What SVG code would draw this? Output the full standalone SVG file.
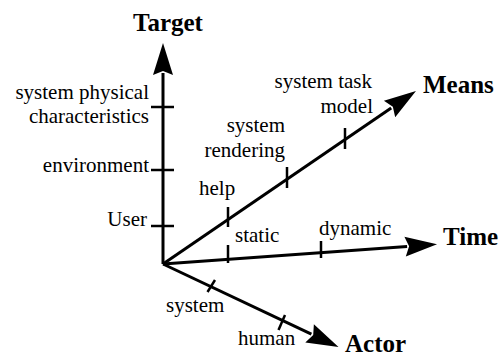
<svg xmlns="http://www.w3.org/2000/svg" width="501" height="356" viewBox="0 0 501 356">
<style>
.ax{stroke:#000;stroke-width:3;fill:none;marker-end:url(#ah)}
.tk{stroke:#000;stroke-width:2.5;fill:none}
text{font-family:"Liberation Serif","Times New Roman","DejaVu Serif",serif;fill:#000}
.lb{font-size:21px;font-weight:normal}
.ttl{font-size:25px;font-weight:bold}
.e{text-anchor:end}
</style>
<defs>
<marker id="ah" markerUnits="userSpaceOnUse" viewBox="-3 -11 34 22" markerWidth="34" markerHeight="22" refX="0" refY="0" orient="auto">
<path d="M30,0 L-2,-10 L2,0 L-2,10 Z" fill="#000"/>
</marker>
</defs>
<rect width="501" height="356" fill="#fff"/>
<g id="connectors">
<path class="ax" d="M163,264 L163,73"/>
<path class="ax" d="M163,264 L391.2,107.9"/>
<path class="ax" d="M163,264 L407.1,246.5"/>
<path class="ax" d="M163,264 L311.4,334.2"/>
</g>
<g id="target-axis">
<text class="ttl" x="133" y="31">Target</text>
<line class="tk" x1="151" y1="107" x2="174" y2="107"/>
<line class="tk" x1="151" y1="170" x2="174" y2="170"/>
<line class="tk" x1="151" y1="226" x2="174" y2="226"/>
<text class="lb e" x="149" y="99">system physical</text>
<text class="lb e" x="149" y="123">characteristics</text>
<text class="lb e" x="149" y="172">environment</text>
<text class="lb e" x="147" y="226">User</text>
</g>
<g id="means-axis">
<text class="ttl" x="423" y="93">Means</text>
<line class="tk" x1="228" y1="207" x2="228" y2="227"/>
<line class="tk" x1="287" y1="167" x2="287" y2="188"/>
<line class="tk" x1="345" y1="128" x2="345" y2="149"/>
<text class="lb" x="199" y="195">help</text>
<text class="lb e" x="285" y="132">system</text>
<text class="lb e" x="285" y="157">rendering</text>
<text class="lb e" x="372" y="88">system task</text>
<text class="lb e" x="373" y="113">model</text>
</g>
<g id="time-axis">
<text class="ttl" x="443" y="245">Time</text>
<line class="tk" x1="228" y1="245" x2="228" y2="263"/>
<line class="tk" x1="321" y1="241" x2="321" y2="258"/>
<text class="lb" x="235" y="242">static</text>
<text class="lb" x="319" y="235">dynamic</text>
</g>
<g id="actor-axis">
<text class="ttl" x="345" y="352">Actor</text>
<line class="tk" x1="215" y1="280" x2="207.5" y2="292"/>
<line class="tk" x1="285" y1="315" x2="278.5" y2="330"/>
<text class="lb" x="166" y="312">system</text>
<text class="lb" x="238" y="345">human</text>
</g>
</svg>
